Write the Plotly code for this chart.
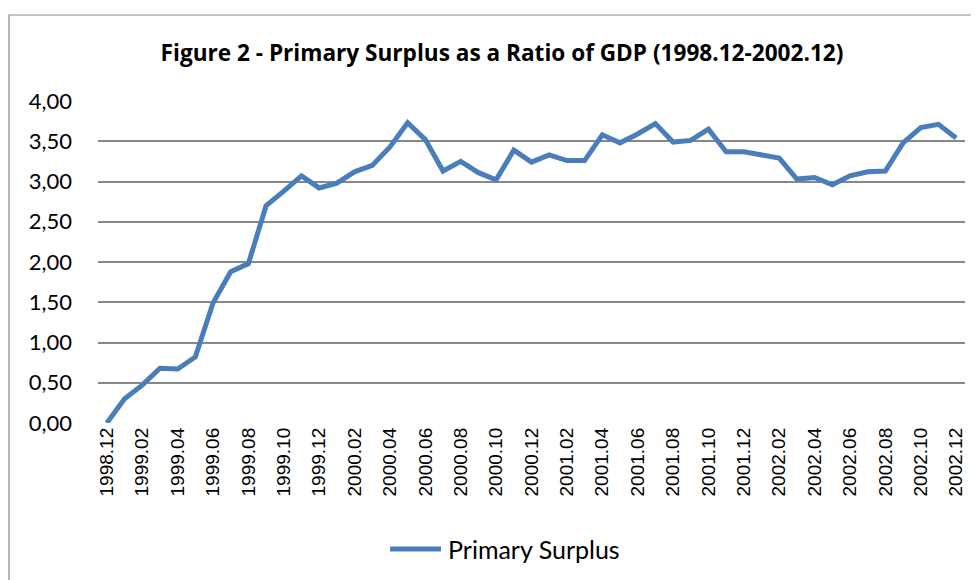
import plotly.graph_objects as go

months = [
    "1998.12",
    "1999.01", "1999.02", "1999.03", "1999.04", "1999.05", "1999.06",
    "1999.07", "1999.08", "1999.09", "1999.10", "1999.11", "1999.12",
    "2000.01", "2000.02", "2000.03", "2000.04", "2000.05", "2000.06",
    "2000.07", "2000.08", "2000.09", "2000.10", "2000.11", "2000.12",
    "2001.01", "2001.02", "2001.03", "2001.04", "2001.05", "2001.06",
    "2001.07", "2001.08", "2001.09", "2001.10", "2001.11", "2001.12",
    "2002.01", "2002.02", "2002.03", "2002.04", "2002.05", "2002.06",
    "2002.07", "2002.08", "2002.09", "2002.10", "2002.11", "2002.12",
]
primary_surplus = [
    0.00,
    0.30, 0.47, 0.68, 0.67, 0.82, 1.49,
    1.88, 1.98, 2.70, 2.88, 3.07, 2.92,
    2.98, 3.12, 3.20, 3.43, 3.73, 3.52,
    3.13, 3.25, 3.11, 3.02, 3.39, 3.24,
    3.33, 3.26, 3.26, 3.58, 3.48, 3.59,
    3.72, 3.49, 3.51, 3.65, 3.37, 3.37,
    3.33, 3.29, 3.03, 3.05, 2.96, 3.07,
    3.12, 3.13, 3.48, 3.67, 3.71, 3.54,
]
series_name = "Primary Surplus"
title_text = "Figure 2 - Primary Surplus as a Ratio of GDP (1998.12-2002.12)"
y_ticks = [0, 0.5, 1.0, 1.5, 2.0, 2.5, 3.0, 3.5, 4.0]
y_tick_text = ["0,00", "0,50", "1,00", "1,50", "2,00", "2,50", "3,00", "3,50", "4,00"]
x_ticks = months[::2]

OFF = 8  # default page body margin
W, H = 979 - OFF, 580 - OFF
# plot area in page pixels
PL, PR, PT, PB = 98, 965, 101, 423
L, R, T, B = PL - OFF, PR - OFF, PT - OFF, PB - OFF
LINE_COLOR = "#4a7ebb"


def px(xp):
    """page x pixel -> paper x"""
    return (xp - PL) / (PR - PL)


def py(yp):
    """page y pixel -> paper y"""
    return (PB - yp) / (PB - PT)


fig = go.Figure()
fig.add_trace(go.Scatter(
    x=months, y=primary_surplus, mode="lines", name=series_name,
    line=dict(color=LINE_COLOR, width=5), showlegend=False,
))

fig.update_layout(
    width=W, height=H,
    margin=dict(l=L, r=W - R, t=T, b=H - B, pad=0),
    paper_bgcolor="white", plot_bgcolor="white",
    title=dict(
        text="<b>" + title_text + "</b>",
        x=(502 - OFF) / W, xanchor="center", y=1 - (53 - OFF) / H, yanchor="middle",
        font=dict(family="Open Sans", size=22.6, color="black"),
    ),
    showlegend=False,
    shapes=[
        dict(
            type="rect", xref="paper", yref="paper",
            x0=px(9), x1=px(995), y0=py(600), y1=py(15),
            line=dict(color="#8a8a8a", width=1.2), fillcolor="rgba(0,0,0,0)",
            layer="below",
        ),
        dict(
            type="line", xref="paper", yref="paper",
            x0=px(390), x1=px(441), y0=py(549), y1=py(549),
            line=dict(color=LINE_COLOR, width=5),
        ),
    ],
    annotations=[dict(
        text=series_name, xref="paper", yref="paper",
        x=px(446), xanchor="left", y=py(549), yanchor="middle",
        showarrow=False, font=dict(family="Lato", size=25, color="black"),
    )],
)
fig.update_xaxes(
    type="category", range=[-0.5, 48.5],
    tickmode="array", tickvals=x_ticks, ticktext=x_ticks,
    tickangle=-90, tickfont=dict(family="Liberation Sans", size=19, color="black"),
    showgrid=False, showline=False, zeroline=False, ticks="", ticklen=0,
)
fig.update_yaxes(
    range=[0, 4], tickmode="array", tickvals=y_ticks, ticktext=y_tick_text,
    tickfont=dict(family="Lato", size=22, color="black"),
    showgrid=True, gridcolor="#888888", gridwidth=1.5,
    zeroline=False, showline=False, ticks="", ticklen=0, ticklabelstandoff=25,
)

fig.write_html("out.html")
